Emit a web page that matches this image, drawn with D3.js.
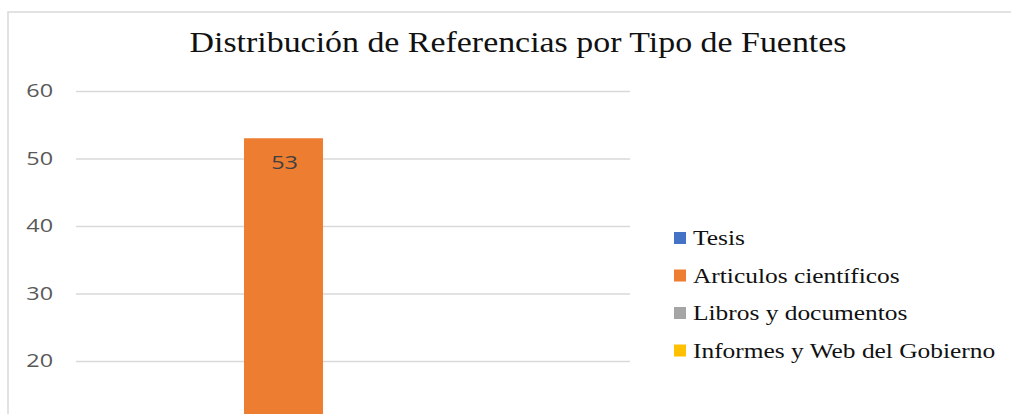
<!DOCTYPE html>
<html>
<head>
<meta charset="utf-8">
<script src="https://cdn.jsdelivr.net/npm/d3@7"></script>
<style>
  html, body { margin: 0; padding: 0; background: #fff; overflow: hidden; }
  svg { display: block; }
</style>
</head>
<body>
<div id="chart"></div>
<script>
// values (the ones under 20 are cut off, so they are guesses)
var categories = ["Fuentes"];
var seriesNames = ["Tesis", "Articulos científicos", "Libros y documentos", "Informes y Web del Gobierno"];
var seriesValues = [8, 53, 10, 6];
var seriesColors = ["#4472C4", "#ED7D31", "#A5A5A5", "#FFC000"];
var yTicks = [20, 30, 40, 50, 60]; // 0 and 10 fall below the cropped edge
var title = "Distribución de Referencias por Tipo de Fuentes";

var width = 1011, height = 414;
var plot = { left: 76, right: 630, top: 91, bottom: 496 };

var svg = d3.select("#chart").append("svg")
    .attr("width", width)
    .attr("height", height);

// chart frame (runs past the bottom/right edge, as in the cropped original)
svg.append("rect")
    .attr("x", 8).attr("y", 12)
    .attr("width", 1020).attr("height", 500)
    .attr("fill", "#fff")
    .attr("stroke", "#d9d9d9")
    .attr("stroke-width", 1.5);

var y = d3.scaleLinear().domain([0, 60]).range([plot.bottom, plot.top]);

var x0 = d3.scaleBand()
    .domain(categories)
    .range([plot.left, plot.right])
    .paddingInner(0)
    .paddingOuter(0.3766)
    .align(0.374);

var x1 = d3.scaleBand()
    .domain(seriesNames)
    .range([0, x0.bandwidth()])
    .padding(0);

//Gridlines + tick labels in one axis
var axis = svg.append("g")
    .attr("transform", "translate(" + plot.left + ",0)")
    .call(d3.axisLeft(y).tickValues(yTicks).tickSize(-(plot.right - plot.left)).tickPadding(23));
axis.select(".domain").remove();
axis.selectAll(".tick line")
    .attr("stroke", "#d9d9d9")
    .attr("stroke-width", 1.5);
axis.selectAll(".tick text")
    .attr("fill", "#595959")
    .style("font-family", "'Open Sans', sans-serif")
    .style("font-size", "18px")
    .attr("x", -23 / 1.3)
    .attr("transform", "scale(1.3,1)");

var rows = categories.map(function (c) {
    return seriesNames.map(function (s, i) {
        return { cat: c, name: s, value: seriesValues[i], color: seriesColors[i] };
    });
});

var groups = svg.append("g").selectAll("g")
    .data(rows)
    .enter().append("g")
    .attr("transform", function (d) { return "translate(" + x0(d[0].cat) + ",0)"; });

groups.selectAll("rect")
    .data(function (d) { return d; })
    .enter().append("rect")
    .attr("x", function (d) { return x1(d.name); })
    .attr("y", function (d) { return y(d.value); })
    .attr("width", x1.bandwidth())
    .attr("height", function (d) { return y(0) - y(d.value); })
    .attr("fill", function (d) { return d.color; });

//data labels, inside end - only the ones that land inside the visible crop
groups.selectAll("text")
    .data(function (d) { return d.filter(function (e) { return y(e.value) + 31 < height; }); })
    .enter().append("text")
    .attr("transform", function (d) {
        return "translate(" + (x1(d.name) + x1.bandwidth() / 2 + 1) + "," + (y(d.value) + 31) + ") scale(1.3,1)";
    })
    .attr("text-anchor", "middle")
    .attr("fill", "#404040")
    .style("font-family", "'Open Sans', sans-serif")
    .style("font-size", "18px")
    .text(function (d) { return d.value; });

// title
svg.append("text")
    .attr("transform", "translate(518,52) scale(1.13,1)")
    .attr("text-anchor", "middle")
    .attr("fill", "#111")
    .style("font-family", "'Liberation Serif', serif")
    .style("font-size", "30px")
    .text(title);

// legend
var legend = svg.append("g").selectAll("g")
    .data(seriesNames)
    .enter().append("g")
    .attr("transform", function (d, i) { return "translate(674," + (245 + i * 37.5) + ")"; });

legend.append("rect")
    .attr("x", 0).attr("y", -13)
    .attr("width", 12).attr("height", 12)
    .attr("fill", function (d, i) { return seriesColors[i]; });

legend.append("text")
    .attr("transform", "translate(19,0) scale(1.27,1)")
    .attr("fill", "#111")
    .style("font-family", "'Liberation Serif', serif")
    .style("font-size", "20px")
    .text(function (d) { return d; });
</script>
</body>
</html>
